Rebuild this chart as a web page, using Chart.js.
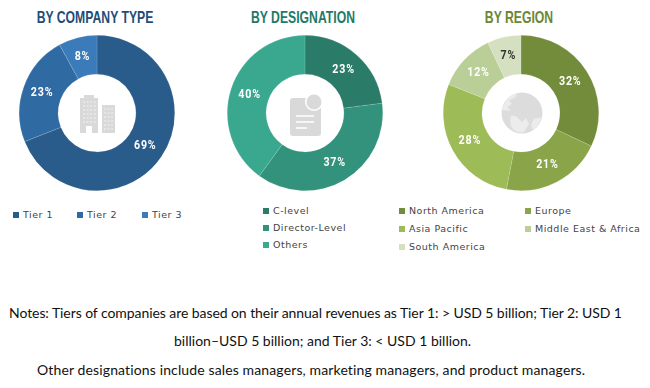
<!DOCTYPE html>
<html>
<head>
    <title>By Company Type, Designation and Region</title>
    <script src="https://cdn.jsdelivr.net/npm/chart.js"></script>
    <style>
        html, body { margin: 0; padding: 0; background: #fff; }
        #page { position: relative; width: 650px; height: 388px; overflow: hidden; }
        canvas { position: absolute; }
        .title { position: absolute; top: 8px; width: 190px; text-align: center; font: bold 16.5px "Liberation Sans", sans-serif; transform: scaleX(0.74); white-space: nowrap; }
        .item { position: absolute; font: 9.5px "DejaVu Sans", sans-serif; letter-spacing: 0.5px; color: #444; white-space: nowrap; line-height: 14px; }
        .item i { position: absolute; left: -10px; top: 4px; width: 6px; height: 6px; }
        .note { position: absolute; font: 14px Lato, sans-serif; color: #111; white-space: nowrap; }
        svg { position: absolute; }
    </style>
</head>
<body>
<div id="page">
    <canvas id="company-chart" style="left:12px;top:28px"></canvas>
    <canvas id="designation-chart" style="left:220px;top:28px"></canvas>
    <canvas id="region-chart" style="left:436px;top:28px"></canvas>

    <div class="title" style="left:0px;color:#1f4e79">BY COMPANY TYPE</div>
    <div class="title" style="left:207.5px;color:#1f7a68">BY DESIGNATION</div>
    <div class="title" style="left:423.5px;color:#6b8734">BY REGION</div>

    <!-- building -->
    <svg style="left:79px;top:94px" width="36" height="39" viewBox="0 0 36 39">
        <path fill="#d9d9d9" d="M1 4h4V1h10v3h4v35h-6v-7H7v7H1z"/>
        <path fill="#d9d9d9" d="M23 11h13v28H23z"/>
        <path stroke="#f4f4f4" stroke-width="1.2" stroke-dasharray="2 1.6" d="M4 8h13M4 12h13M4 16h13M4 20h13M4 24h13M4 28h13M25 15h9M25 19h9M25 23h9M25 27h9M25 31h9M25 35h9"/>
    </svg>
    <!-- document -->
    <svg style="left:288px;top:93px" width="36" height="44" viewBox="0 0 36 44">
        <path fill="#d9d9d9" d="M5 5h18l10 10v25a3 3 0 0 1-3 3H5a3 3 0 0 1-3-3V8a3 3 0 0 1 3-3z"/>
        <circle cx="26" cy="9" r="9" fill="#fff"/>
        <circle cx="26" cy="9" r="7.5" fill="#d9d9d9"/>
        <path stroke="#fff" stroke-width="1.6" d="M8 23h18M8 29h18M8 35h11"/>
    </svg>
    <!-- globe -->
    <svg style="left:501px;top:92px" width="42" height="42" viewBox="0 0 42 42">
        <circle cx="21" cy="21" r="20.5" fill="#dcdcdc"/>
        <path fill="#ececec" d="M1 18C3 9 9 3 16 1l-2 5-6 2 3 4-5 3 4 4zM10 24c4-1 6 1 8 3l3 3 4-4 3 6-5 8c-3 1-6 0-9-1-4-3-6-9-4-15zM33 27l7-2c-1 6-4 10-8 13l-2-5z"/>
    </svg>

    <div class="note" style="top:304px;left:9px;letter-spacing:-0.07px">Notes: Tiers of companies are based on their annual revenues as Tier 1: &gt; USD 5 billion; Tier 2: USD 1</div>
    <div class="note" style="top:332px;left:174px">billion–USD 5 billion; and Tier 3: &lt; USD 1 billion.</div>
    <div class="note" style="top:361px;left:37px;letter-spacing:0.13px">Other designations include sales managers, marketing managers, and product managers.</div>
</div>

<script>
    const companyLabels = ['Tier 1', 'Tier 2', 'Tier 3'];
    const companyValues = [69, 23, 8];
    const companyColors = ['#295b8b', '#2f6aa3', '#3b7bb9'];

    const designationLabels = ['C-level', 'Director-Level', 'Others'];
    const designationValues = [23, 37, 40];
    const designationColors = ['#2b7b69', '#33927c', '#3aa88f'];

    const regionLabels = ['North America', 'Europe', 'Asia Pacific', 'Middle East & Africa', 'South America'];
    const regionValues = [32, 21, 28, 12, 7];
    const regionColors = ['#738c3b', '#8aa549', '#9dbb56', '#bacf97', '#d4e0c0'];
    const regionLabelColors = ['#fff', '#fff', '#fff', '#fff', '#333'];

    // percent labels sit in the middle of each ring slice
    const sliceLabels = {
        id: 'sliceLabels',
        afterDatasetsDraw(chart, args, opts) {
            const ctx = chart.ctx;
            const values = chart.data.datasets[0].data;
            chart.getDatasetMeta(0).data.forEach((arc, i) => {
                const pos = arc.tooltipPosition();
                ctx.save();
                ctx.translate(pos.x, pos.y);
                ctx.scale(0.82, 1);
                ctx.font = 'bold 13px Roboto, sans-serif';
                ctx.letterSpacing = '1px';
                ctx.textAlign = 'center';
                ctx.textBaseline = 'middle';
                ctx.fillStyle = opts.colors ? opts.colors[i] : '#fff';
                ctx.fillText(values[i] + '%', 0, 0);
                ctx.restore();
            });
        }
    };

    function makeDonut(id, labels, values, colors, labelColors) {
        const canvas = document.getElementById(id);
        canvas.width = 170;
        canvas.height = 170;
        canvas.style.width = '170px';
        canvas.style.height = '170px';
        new Chart(canvas.getContext('2d'), {
            type: 'doughnut',
            data: {
                labels: labels,
                datasets: [{
                    data: values,
                    backgroundColor: colors,
                    borderColor: 'rgba(255,255,255,0.25)',
                    borderWidth: 0.5
                }]
            },
            options: {
                responsive: false,
                animation: false,
                cutout: '50%',
                layout: { padding: 7 },
                plugins: {
                    legend: { display: false },
                    tooltip: { enabled: false },
                    sliceLabels: { colors: labelColors }
                }
            },
            plugins: [sliceLabels]
        });
    }

    function addLegend(labels, colors, places) {
        labels.forEach((label, i) => {
            const item = document.createElement('div');
            item.className = 'item';
            item.style.left = places[i][0] + 'px';
            item.style.top = places[i][1] + 'px';
            item.textContent = label;
            const box = document.createElement('i');
            box.style.background = colors[i];
            item.appendChild(box);
            document.getElementById('page').appendChild(item);
        });
    }

    makeDonut('company-chart', companyLabels, companyValues, companyColors);
    makeDonut('designation-chart', designationLabels, designationValues, designationColors);
    makeDonut('region-chart', regionLabels, regionValues, regionColors, regionLabelColors);

    addLegend(companyLabels, companyColors, [[23, 208], [87, 208], [152, 208]]);
    addLegend(designationLabels, designationColors, [[273, 204], [273, 221], [273, 238]]);
    addLegend(regionLabels, regionColors, [[409, 204], [535, 204], [409, 222], [535, 222], [409, 240]]);
</script>
</body>
</html>
